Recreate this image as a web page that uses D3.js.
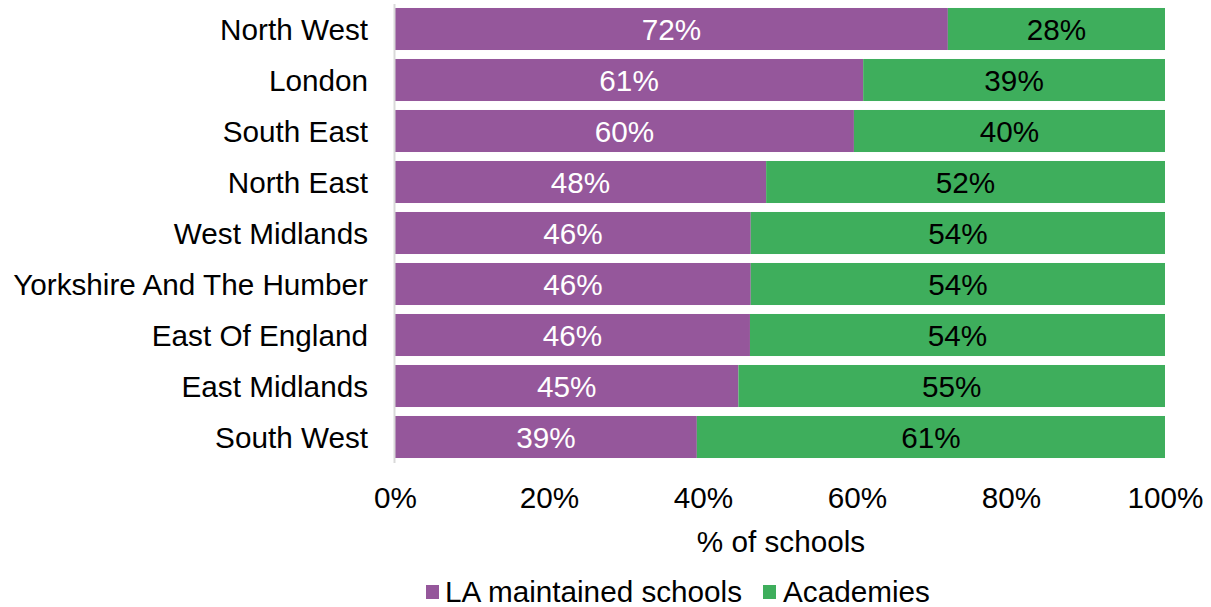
<!DOCTYPE html>
<html><head><meta charset="utf-8">
<script src="https://cdn.jsdelivr.net/npm/d3@7"></script>
<style>body{margin:0;background:#fff}svg{display:block;font-family:"Liberation Sans",Arial,sans-serif}</style>
</head><body><svg id="c" width="1211" height="607"></svg>
<script>
const categories = ["North West","London","South East","North East","West Midlands","Yorkshire And The Humber","East Of England","East Midlands","South West"];
const laMaintained = [71.8,60.8,59.6,48.2,46.2,46.2,46.1,44.6,39.2];
const academies = laMaintained.map(v => 100 - v);
const xTicks = [0,20,40,60,80,100];
const seriesNames = ["LA maintained schools","Academies"];
const colors = ["#95579B","#3EAE5C"];

const FS = 29.7;
const svg = d3.select("#c");
const x = d3.scaleLinear().domain([0,100]).range([395,1165]);
const y = d3.scaleBand().domain(categories).range([3.5,462.5]).paddingInner(0.176).paddingOuter(0.088);

const rows = categories.map((c,i)=>({c, a:laMaintained[i], b:academies[i]}));
const g = svg.append("g");
rows.forEach(r=>{
  g.append("rect").attr("x",x(0)).attr("y",y(r.c)).attr("width",x(r.a)-x(0)).attr("height",y.bandwidth()).attr("fill",colors[0]);
  g.append("rect").attr("x",x(r.a)).attr("y",y(r.c)).attr("width",x(100)-x(r.a)).attr("height",y.bandwidth()).attr("fill",colors[1]);
  g.append("text").attr("x",(x(0)+x(r.a))/2).attr("y",y(r.c)+y.bandwidth()/2).attr("dy","0.36em")
    .attr("text-anchor","middle").attr("fill","#fff").attr("font-size",FS).text(Math.round(r.a)+"%");
  g.append("text").attr("x",(x(r.a)+x(100))/2).attr("y",y(r.c)+y.bandwidth()/2).attr("dy","0.36em")
    .attr("text-anchor","middle").attr("fill","#000").attr("font-size",FS).text(Math.round(r.b)+"%");
});

// y axis
const ya = svg.append("g").attr("transform",`translate(${x(0)-1},0)`).call(d3.axisLeft(y).tickSize(0).tickPadding(26));
ya.select(".domain").attr("stroke","#d9d9d9").attr("stroke-width",2);
ya.selectAll("text").attr("font-size",FS).attr("fill","#000").attr("dy","0.36em").attr("font-family","Liberation Sans, Arial, sans-serif");

// x axis
const xa = svg.append("g").attr("transform","translate(0,476)").call(d3.axisBottom(x).tickValues(xTicks).tickFormat(d=>d+"%").tickSize(0).tickPadding(11));
xa.select(".domain").remove();
xa.selectAll("text").attr("font-size",FS).attr("fill","#000").attr("font-family","Liberation Sans, Arial, sans-serif");

svg.append("text").attr("x",781).attr("y",552).attr("text-anchor","middle").attr("font-size",FS).text("% of schools");

// legend
const leg = [{x:426, tx:445},{x:763, tx:783}];
seriesNames.forEach((n,i)=>{
  svg.append("rect").attr("x",leg[i].x).attr("y",585).attr("width",13).attr("height",14).attr("fill",colors[i]);
  svg.append("text").attr("x",leg[i].tx).attr("y",602).attr("font-size",FS).text(n);
});
</script></body></html>
